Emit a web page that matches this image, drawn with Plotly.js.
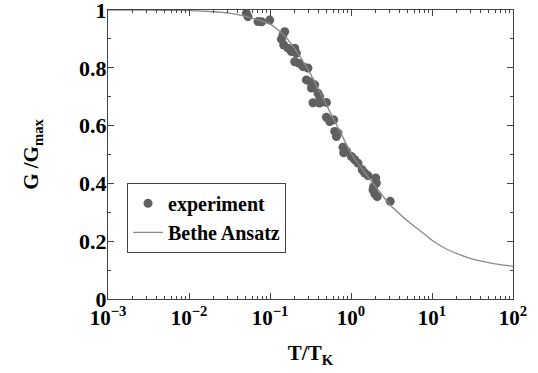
<!DOCTYPE html>
<html>
<head>
<meta charset="utf-8">
<script src="https://cdn.plot.ly/plotly-3.0.1.min.js"></script>
<style>html,body{margin:0;padding:0;background:#fff;}#chart{width:538px;height:373px;}</style>
</head>
<body>
<div id="chart"></div>
<script>
// Experimental points (T/T_K, G/G_max)
var expT = [0.0511, 0.0535, 0.0711, 0.0790, 0.0991, 0.152, 0.1447, 0.1382, 0.1476, 0.1668,
            0.1837, 0.2018, 0.2118, 0.2018, 0.2261, 0.2556, 0.2944, 0.2813, 0.318, 0.3563,
            0.3245, 0.3914, 0.4108, 0.3396, 0.4108, 0.497, 0.497, 0.5458, 0.6115, 0.6292,
            0.6603, 0.691, 0.7966, 0.8127, 0.885, 1.011, 1.111, 1.22, 1.375, 1.476,
            1.621, 2.018, 2.059, 1.906, 1.869, 1.962, 2.106, 3.048];
var expG = [0.989, 0.977, 0.960, 0.959, 0.965, 0.925, 0.914, 0.899, 0.879, 0.868,
            0.856, 0.868, 0.850, 0.821, 0.816, 0.804, 0.799, 0.758, 0.751, 0.741,
            0.730, 0.712, 0.700, 0.679, 0.678, 0.680, 0.629, 0.614, 0.620, 0.580,
            0.562, 0.574, 0.525, 0.506, 0.511, 0.493, 0.482, 0.470, 0.447, 0.436,
            0.427, 0.419, 0.401, 0.389, 0.378, 0.364, 0.354, 0.338];

// Bethe Ansatz curve
var baT = [0.001, 0.002, 0.005, 0.01, 0.02, 0.03, 0.05, 0.07, 0.1, 0.15, 0.2, 0.3, 0.5, 0.7,
           1, 1.5, 2, 3, 5, 7, 10, 15, 20, 30, 50, 70, 100];
var baG = [1.0, 1.0, 0.999, 0.998, 0.994, 0.99, 0.978, 0.966, 0.952, 0.912, 0.868, 0.79, 0.67, 0.59,
           0.505, 0.435, 0.39, 0.327, 0.270, 0.238, 0.203, 0.173, 0.158, 0.140, 0.126, 0.119, 0.113];

// Axis tick labels
var xTickVals = [0.001, 0.01, 0.1, 1, 10, 100];
var xTickText = ['10<sup>\u22123</sup>', '10<sup>\u22122</sup>', '10<sup>\u22121</sup>',
                 '10<sup>0</sup>', '10<sup>1</sup>', '10<sup>2</sup>'];
var yTickVals = [0, 0.2, 0.4, 0.6, 0.8, 1];
var yTickText = ['0', '0.2', '0.4', '0.6', '0.8', '1'];

var xMinor = [];
for (var d = -3; d < 2; d++) {
  for (var m = 2; m <= 9; m++) xMinor.push(m * Math.pow(10, d));
}

var traces = [
  {
    x: expT, y: expG, type: 'scatter', mode: 'markers', name: 'experiment',
    marker: {size: 9, color: '#606060'}
  },
  {
    x: baT, y: baG, type: 'scatter', mode: 'lines', name: 'Bethe Ansatz',
    line: {color: '#8a8a8a', width: 1.3, shape: 'spline', smoothing: 0.5}
  }
];

var layout = {
  width: 538, height: 373,
  margin: {l: 108, r: 25, t: 10, b: 73.5},
  paper_bgcolor: '#fff', plot_bgcolor: '#fff',
  font: {family: 'Liberation Serif, Times New Roman, serif', size: 21, color: '#000', weight: 'bold'},
  showlegend: true,
  legend: {
    x: 0.047, y: 0.402, xanchor: 'left', yanchor: 'top',
    bgcolor: '#fff', bordercolor: '#444', borderwidth: 1,
    font: {size: 20, weight: 'bold'}
  },
  xaxis: {
    type: 'log', range: [-3, 2],
    tickmode: 'array', tickvals: xTickVals, ticktext: xTickText,
    ticks: 'inside', ticklen: 6, tickcolor: '#444', ticklabeloverflow: 'allow',
    minor: {tickmode: 'array', tickvals: xMinor, ticks: 'inside', ticklen: 3, tickcolor: '#444', showgrid: false},
    showline: true, linecolor: '#444', linewidth: 1, mirror: 'ticks',
    showgrid: false, zeroline: false,
    tickfont: {size: 21, weight: 'bold'},
    title: {text: 'T/T<sub>K</sub>', font: {size: 21, weight: 'bold'}, standoff: 16}
  },
  yaxis: {
    range: [0, 1],
    tickmode: 'array', tickvals: yTickVals, ticktext: yTickText,
    ticks: 'inside', ticklen: 6, tickcolor: '#444', ticklabeloverflow: 'allow',
    ticklabelstandoff: -4,
    minor: {tickmode: 'linear', tick0: 0, dtick: 0.1, ticks: 'inside', ticklen: 3, tickcolor: '#444', showgrid: false},
    showline: true, linecolor: '#444', linewidth: 1, mirror: 'ticks',
    showgrid: false, zeroline: false,
    tickfont: {size: 22, weight: 'bold'},
    title: {text: 'G /G<sub>max</sub>', font: {size: 21, weight: 'bold'}, standoff: 34}
  }
};

Plotly.newPlot('chart', traces, layout, {displayModeBar: false, staticPlot: true});
</script>
</body>
</html>
